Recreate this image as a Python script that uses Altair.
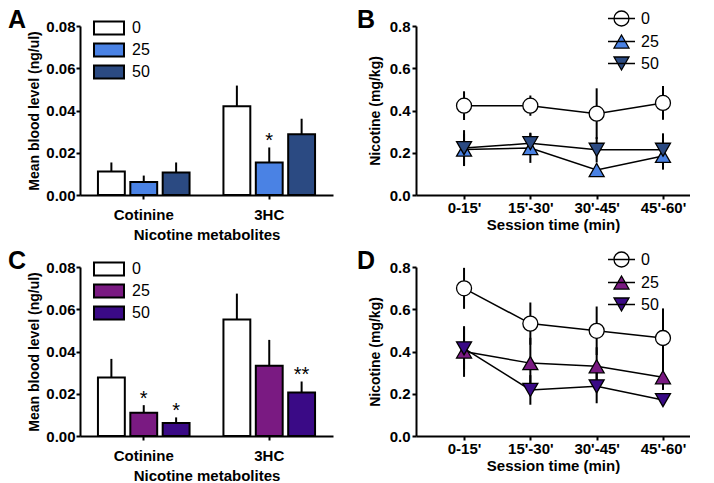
import altair as alt
import pandas as pd

FONT = "Liberation Sans"

metabolites = ["Cotinine", "3HC"]
doses = ["0", "25", "50"]
times = ["0-15'", "15'-30'", "30'-45'", "45'-60'"]

# Panel A (bars): mean and SEM per dose, [Cotinine, 3HC]
a_mean_0 = [0.0111, 0.0420]
a_mean_25 = [0.0062, 0.0154]
a_mean_50 = [0.0106, 0.0288]
a_sem_0 = [0.0043, 0.0098]
a_sem_25 = [0.0030, 0.0071]
a_sem_50 = [0.0048, 0.0073]
a_star_dose = ["25"]
a_star_metab = ["3HC"]
a_star_text = ["*"]

# Panel C (bars)
c_mean_0 = [0.0277, 0.0551]
c_mean_25 = [0.0110, 0.0332]
c_mean_50 = [0.0061, 0.0206]
c_sem_0 = [0.0088, 0.0123]
c_sem_25 = [0.0036, 0.0123]
c_sem_50 = [0.0027, 0.0052]
c_star_dose = ["25", "50", "50"]
c_star_metab = ["Cotinine", "Cotinine", "3HC"]
c_star_text = ["*", "*", "**"]

# Panel B (lines)
b_mean_0 = [0.423, 0.423, 0.385, 0.436]
b_mean_25 = [0.215, 0.222, 0.118, 0.185]
b_mean_50 = [0.222, 0.245, 0.214, 0.214]
b_sem_0 = [0.068, 0.048, 0.120, 0.080]
b_sem_25 = [0.075, 0.070, 0.030, 0.065]
b_sem_50 = [0.085, 0.050, 0.060, 0.078]

# Panel D (lines)
d_mean_0 = [0.699, 0.532, 0.498, 0.464]
d_mean_25 = [0.400, 0.345, 0.330, 0.278]
d_mean_50 = [0.415, 0.218, 0.235, 0.170]
d_sem_0 = [0.097, 0.100, 0.115, 0.140]
d_sem_25 = [0.120, 0.120, 0.090, 0.060]
d_sem_50 = [0.100, 0.070, 0.080, 0.020]

blue_colors = ["#ffffff", "#4a82e4", "#2b4a82"]
purple_colors = ["#ffffff", "#7a1a82", "#3a0a86"]

UP = "M0,-0.87L1,0.87L-1,0.87Z"
DOWN = "M0,0.87L1,-0.87L-1,-0.87Z"
MARK_SHAPES = ["circle", UP, DOWN]
LEG_CIRCLE = "M-1.8,0H1.8M1,0A1,1 0 1,1 -1,0A1,1 0 1,1 1,0Z"
LEG_UP = "M-1.8,0H1.8M0,-0.87L1,0.87L-1,0.87Z"
LEG_DOWN = "M-1.8,0H1.8M0,0.87L1,-0.87L-1,-0.87Z"
RECT = "M-1.667,-0.72H1.667V0.72H-1.667Z"


def letter_title(letter, dx, offset):
    return alt.TitleParams(letter, anchor="start", frame="group", dx=dx, fontSize=25,
                           fontWeight="bold", font=FONT, color="black", offset=offset)


def bar_panel(means, sems, star_d, star_m, star_t, colors, letter):
    rows = []
    for d, m_list, s_list in zip(doses, means, sems):
        for i, m in enumerate(metabolites):
            rows.append(dict(metabolite=m, dose=d, mean=m_list[i], top=m_list[i] + s_list[i]))
    df = pd.DataFrame(rows)
    stars = df.merge(pd.DataFrame(dict(dose=star_d, metabolite=star_m, label=star_t)),
                     on=["dose", "metabolite"])
    x = alt.X("metabolite:N", sort=metabolites,
              scale=alt.Scale(paddingInner=0.27, paddingOuter=0.143),
              axis=alt.Axis(title="Nicotine metabolites", labelAngle=0, labelPadding=8,
                            titlePadding=5))
    xo = alt.XOffset("dose:N", sort=doses, scale=alt.Scale(paddingInner=0.17, paddingOuter=0))
    y = alt.Y("mean:Q", scale=alt.Scale(domain=[0, 0.08]),
              axis=alt.Axis(title="Mean blood level (ng/ul)", values=[0, 0.02, 0.04, 0.06, 0.08],
                            format=".2f", labelPadding=1, titlePadding=4, titleFontSize=14))
    fill = alt.Fill("dose:N", sort=doses, scale=alt.Scale(domain=doses, range=colors),
                    legend=alt.Legend(title=None, orient="none", legendX=19, legendY=-8,
                                      symbolType=RECT, symbolSize=324,
                                      symbolStrokeColor="black", symbolStrokeWidth=2,
                                      labelFontSize=16, labelFontWeight="normal",
                                      labelFont=FONT, labelColor="black",
                                      labelOffset=13, rowPadding=0, padding=0))
    bars = alt.Chart(df).mark_bar(stroke="black", strokeWidth=2).encode(x=x, xOffset=xo, y=y, fill=fill)
    err = alt.Chart(df).mark_rule(color="black", strokeWidth=2).encode(
        x=x, xOffset=xo, y="mean:Q", y2="top:Q")
    txt = alt.Chart(stars).mark_text(fontSize=20, font=FONT, baseline="alphabetic", dy=0,
                                     color="black").encode(x=x, xOffset=xo, y="top:Q", text="label:N")
    return alt.layer(err, bars, txt).properties(
        width=253, height=169, title=letter_title(letter, -72, -15))


def line_panel(means, sems, colors, letter):
    rows = []
    for d, m_list, s_list in zip(doses, means, sems):
        for i, t in enumerate(times):
            rows.append(dict(time=t, dose=d, order_idx=i, mean=m_list[i],
                             lo=m_list[i] - s_list[i], hi=m_list[i] + s_list[i]))
    df = pd.DataFrame(rows)
    x = alt.X("time:N", sort=times,
              scale=alt.Scale(type="point", padding=0.566, align=0.64),
              axis=alt.Axis(title="Session time (min)", labelAngle=0, labelPadding=1,
                            titlePadding=2))
    y = alt.Y("mean:Q", scale=alt.Scale(domain=[0, 0.8]),
              axis=alt.Axis(title="Nicotine (mg/kg)", values=[0, 0.2, 0.4, 0.6, 0.8],
                            format=".1f", labelPadding=2, titlePadding=7, titleFontSize=14))
    err = alt.Chart(df).mark_rule(color="black", strokeWidth=2).encode(x=x, y="lo:Q", y2="hi:Q")
    lines = alt.Chart(df).mark_line(color="black", strokeWidth=1.5).encode(
        x=x, y=y, detail="dose:N", order=alt.Order("order_idx:Q"))
    layers = [err, lines]
    for d, shp, col in zip(doses, MARK_SHAPES, colors):
        layers.append(
            alt.Chart(df).transform_filter(alt.datum.dose == d).mark_point(
                filled=True, shape=shp, fill=col, size=225, stroke="black",
                strokeWidth=1.3, opacity=1).encode(x=x, y=y))
    # legend-only layer (values are missing, so no marks are drawn)
    leg_df = pd.DataFrame(dict(time=times[:3], dose=doses, mean=[float("nan")] * 3))
    leg = alt.Legend(title=None, orient="none", legendX=197, legendY=-16,
                     symbolSize=225, symbolStrokeColor="black", symbolStrokeWidth=1.3,
                     symbolOpacity=1, labelFontSize=16, labelFontWeight="normal",
                     labelFont=FONT, labelColor="black", labelOffset=11, rowPadding=3,
                     padding=0)
    legend_layer = alt.Chart(leg_df).mark_point(
        filled=True, size=225, strokeWidth=1.3, opacity=1).encode(
        x=x, y=y,
        fill=alt.Fill("dose:N", sort=doses, scale=alt.Scale(domain=doses, range=colors), legend=leg),
        stroke=alt.Stroke("dose:N", sort=doses,
                          scale=alt.Scale(domain=doses, range=["black", "black", "black"]),
                          legend=leg),
        shape=alt.Shape("dose:N", sort=doses,
                        scale=alt.Scale(domain=doses, range=[LEG_CIRCLE, LEG_UP, LEG_DOWN]),
                        legend=leg))
    layers.append(legend_layer)
    return alt.layer(*layers).properties(
        width=274, height=169, title=letter_title(letter, -59, -23))


A = bar_panel([a_mean_0, a_mean_25, a_mean_50], [a_sem_0, a_sem_25, a_sem_50],
              a_star_dose, a_star_metab, a_star_text, blue_colors, "A")
C = bar_panel([c_mean_0, c_mean_25, c_mean_50], [c_sem_0, c_sem_25, c_sem_50],
              c_star_dose, c_star_metab, c_star_text, purple_colors, "C")
B = line_panel([b_mean_0, b_mean_25, b_mean_50], [b_sem_0, b_sem_25, b_sem_50], blue_colors, "B")
D = line_panel([d_mean_0, d_mean_25, d_mean_50], [d_sem_0, d_sem_25, d_sem_50], purple_colors, "D")

row1 = alt.hconcat(A, B, spacing=24).resolve_scale(
    fill="independent", shape="independent", stroke="independent")
row2 = alt.hconcat(C, D, spacing=24).resolve_scale(
    fill="independent", shape="independent", stroke="independent")

chart = alt.vconcat(row1, row2, spacing=7).resolve_scale(
    fill="independent", shape="independent", stroke="independent"
).properties(padding=0).configure_view(stroke=None).configure_axis(
    grid=False, domainColor="black", domainWidth=2, tickColor="black", tickWidth=2,
    tickSize=4, labelFont=FONT, labelFontSize=15, labelFontWeight="bold", labelColor="black",
    titleFont=FONT, titleFontSize=15, titleFontWeight="bold", titleColor="black",
).configure_legend(labelFont=FONT)

chart.save("out.html", embed_options={"renderer": "svg", "actions": False})
